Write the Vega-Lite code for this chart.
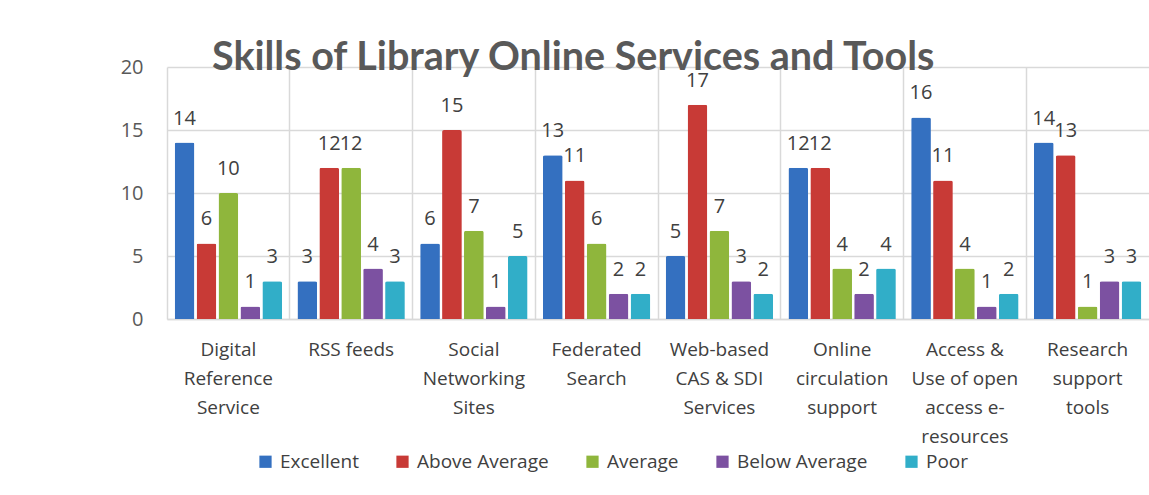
{
  "$schema": "https://vega.github.io/schema/vega-lite/v6.json",
  "autosize": {"type": "none"},
  "padding": {"left": 167, "top": 67, "right": 0, "bottom": 176},
  "width": 982,
  "height": 252,
  "background": "white",
  "title": {
    "text": "Skills of Library Online Services and Tools",
    "anchor": "start",
    "frame": "group",
    "dx": 45,
    "offset": -52,
    "baseline": "alphabetic",
    "font": "Lato",
    "fontSize": 39.5,
    "fontWeight": "bold",
    "color": "#595959"
  },
  "data": {
    "values": [
      {"category": "Digital Reference Service", "rating": "Excellent", "count": 14},
      {"category": "Digital Reference Service", "rating": "Above Average", "count": 6},
      {"category": "Digital Reference Service", "rating": "Average", "count": 10},
      {"category": "Digital Reference Service", "rating": "Below Average", "count": 1},
      {"category": "Digital Reference Service", "rating": "Poor", "count": 3},
      {"category": "RSS feeds", "rating": "Excellent", "count": 3},
      {"category": "RSS feeds", "rating": "Above Average", "count": 12},
      {"category": "RSS feeds", "rating": "Average", "count": 12},
      {"category": "RSS feeds", "rating": "Below Average", "count": 4},
      {"category": "RSS feeds", "rating": "Poor", "count": 3},
      {"category": "Social Networking Sites", "rating": "Excellent", "count": 6},
      {"category": "Social Networking Sites", "rating": "Above Average", "count": 15},
      {"category": "Social Networking Sites", "rating": "Average", "count": 7},
      {"category": "Social Networking Sites", "rating": "Below Average", "count": 1},
      {"category": "Social Networking Sites", "rating": "Poor", "count": 5},
      {"category": "Federated Search", "rating": "Excellent", "count": 13},
      {"category": "Federated Search", "rating": "Above Average", "count": 11},
      {"category": "Federated Search", "rating": "Average", "count": 6},
      {"category": "Federated Search", "rating": "Below Average", "count": 2},
      {"category": "Federated Search", "rating": "Poor", "count": 2},
      {"category": "Web-based CAS & SDI Services", "rating": "Excellent", "count": 5},
      {"category": "Web-based CAS & SDI Services", "rating": "Above Average", "count": 17},
      {"category": "Web-based CAS & SDI Services", "rating": "Average", "count": 7},
      {"category": "Web-based CAS & SDI Services", "rating": "Below Average", "count": 3},
      {"category": "Web-based CAS & SDI Services", "rating": "Poor", "count": 2},
      {"category": "Online circulation support", "rating": "Excellent", "count": 12},
      {"category": "Online circulation support", "rating": "Above Average", "count": 12},
      {"category": "Online circulation support", "rating": "Average", "count": 4},
      {"category": "Online circulation support", "rating": "Below Average", "count": 2},
      {"category": "Online circulation support", "rating": "Poor", "count": 4},
      {"category": "Access & Use of open access e-resources", "rating": "Excellent", "count": 16},
      {"category": "Access & Use of open access e-resources", "rating": "Above Average", "count": 11},
      {"category": "Access & Use of open access e-resources", "rating": "Average", "count": 4},
      {"category": "Access & Use of open access e-resources", "rating": "Below Average", "count": 1},
      {"category": "Access & Use of open access e-resources", "rating": "Poor", "count": 2},
      {"category": "Research support tools", "rating": "Excellent", "count": 14},
      {"category": "Research support tools", "rating": "Above Average", "count": 13},
      {"category": "Research support tools", "rating": "Average", "count": 1},
      {"category": "Research support tools", "rating": "Below Average", "count": 3},
      {"category": "Research support tools", "rating": "Poor", "count": 3}
    ]
  },
  "encoding": {
    "x": {
      "field": "category",
      "type": "nominal",
      "sort": null,
      "scale": {"paddingInner": 0, "paddingOuter": 0},
      "axis": {
        "title": null,
        "labelAngle": 0,
        "bandPosition": 0,
        "grid": true,
        "gridColor": "#d9d9d9",
        "gridWidth": 1.5,
        "ticks": false,
        "domainColor": "#d9d9d9",
        "domainWidth": 1.5,
        "labelPadding": 21,
        "labelBaseline": "top",
        "labelFont": "Open Sans",
        "labelFontSize": 19,
        "labelColor": "#404040",
        "labelLineHeight": 29,
        "labelLimit": 200,
        "labelExpr": "({'Digital Reference Service': ['Digital', 'Reference', 'Service'], 'RSS feeds': 'RSS feeds', 'Social Networking Sites': ['Social', 'Networking', 'Sites'], 'Federated Search': ['Federated', 'Search'], 'Web-based CAS & SDI Services': ['Web-based', 'CAS & SDI', 'Services'], 'Online circulation support': ['Online', 'circulation', 'support'], 'Access & Use of open access e-resources': ['Access &', 'Use of open', 'access e-', 'resources'], 'Research support tools': ['Research', 'support', 'tools']})[datum.label]"
      }
    },
    "xOffset": {
      "field": "rating",
      "type": "nominal",
      "sort": ["Excellent", "Above Average", "Average", "Below Average", "Poor"],
      "scale": {"paddingInner": 0.1, "paddingOuter": 0.35}
    },
    "y": {
      "field": "count",
      "type": "quantitative",
      "scale": {"domain": [0, 20]},
      "axis": {
        "title": null,
        "values": [0, 5, 10, 15, 20],
        "grid": true,
        "gridColor": "#d9d9d9",
        "gridWidth": 1.5,
        "domain": false,
        "ticks": false,
        "labelPadding": 24,
        "labelFont": "Open Sans",
        "labelFontSize": 20,
        "labelColor": "#595959"
      }
    }
  },
  "layer": [
    {
      "mark": {"type": "bar", "cornerRadiusTopLeft": 2, "cornerRadiusTopRight": 2},
      "encoding": {
        "color": {
          "field": "rating",
          "type": "nominal",
          "sort": ["Excellent", "Above Average", "Average", "Below Average", "Poor"],
          "scale": {
            "domain": ["Excellent", "Above Average", "Average", "Below Average", "Poor"],
            "range": ["#3470c0", "#c83a36", "#8fb63c", "#7c51a1", "#31aec8"]
          },
          "legend": {
            "title": null,
            "orient": "none",
            "direction": "horizontal",
            "legendX": 89,
            "legendY": 385,
            "symbolType": "square",
            "symbolSize": 150,
            "symbolStrokeWidth": 0,
            "labelFont": "Open Sans",
            "labelFontSize": 19,
            "labelColor": "#404040",
            "labelOffset": 5,
            "columnPadding": 34,
            "labelLimit": 300
          }
        }
      }
    },
    {
      "mark": {
        "type": "text",
        "baseline": "alphabetic",
        "dy": -18,
        "font": "Open Sans",
        "fontSize": 20,
        "color": "#404040"
      },
      "encoding": {
        "text": {"field": "count", "type": "quantitative"}
      }
    }
  ],
  "config": {
    "view": {"stroke": null}
  }
}
